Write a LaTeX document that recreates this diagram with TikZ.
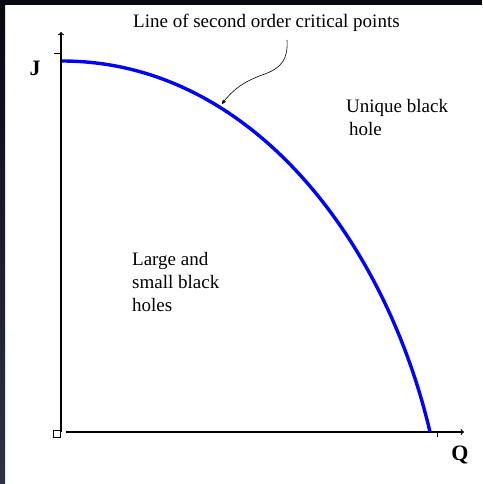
\documentclass[tikz,border=0pt]{standalone}
\usepackage{fontspec}
\setmainfont{Liberation Serif}
\usepackage{xcolor}
\usepackage{tikz}
\usetikzlibrary{arrows,positioning,calc}
\definecolor{phaseblue}{RGB}{0, 0, 255}
\definecolor{frametop}{RGB}{8, 8, 16}
\definecolor{framebot}{RGB}{48, 48, 72}

\begin{document}
\begin{tikzpicture}[x=1pt, y=-1pt, >=stealth',
    lbl/.style={inner sep=0pt, font=\fontsize{19}{23}\selectfont},
    axlbl/.style={inner sep=0pt, font=\fontsize{22}{26}\selectfont\bfseries},
    axis/.style={line width=1.2pt, black}]
    \useasboundingbox (0,0) rectangle (482,484);
    \fill [white] (0,0) rectangle (482,484);
    % dark frame on the left and top
    \shade [top color=frametop, bottom color=framebot] (0,0) rectangle (5,484);
    \fill [frametop] (0,0) rectangle (482,5);

    % axes
    \coordinate (origin) at (61,432);
    \coordinate (jtop) at (61,32);
    \coordinate (qstart) at (66,432);
    \coordinate (qend) at (464,432);
    \draw [axis, ->, >=to] (origin) -- (jtop);
    \draw [axis, ->, >=to] (qstart) -- (qend);
    \draw [axis, line width=0.8pt] (54,53) -- (61,53);
    \draw [axis, line width=0.8pt] (437,432) -- (437,437);
    \draw [line width=0.8pt] (53,430) rectangle (60,437);

    % line of critical points
    \coordinate (jmax) at (62,61);
    \coordinate (qmax) at (430,432);
    \draw [phaseblue, line width=3.4pt] (jmax) .. controls (250,61) and (385,240) .. (qmax);

    \node [lbl, anchor=base west] (title) at (133,28) {Line of second order critical points};
    \coordinate (ptr) at (287,40);
    \coordinate (hit) at (222,104);
    \draw [->, line width=0.6pt] (ptr) .. controls (288,58) and (283,68) .. (262,75) .. controls (245,81) and (232,90) .. (hit);

    \node [lbl, anchor=north west, align=left] (unique) at (346,99) {Unique black\\\hspace*{3pt}hole};
    \node [lbl, anchor=north west, align=left] (large) at (132,252) {Large and\\small black\\holes};
    \node [axlbl, anchor=base] (jlbl) at (35,76) {J};
    \node [axlbl, anchor=base] (qlbl) at (460,460) {Q};
\end{tikzpicture}
\end{document}
